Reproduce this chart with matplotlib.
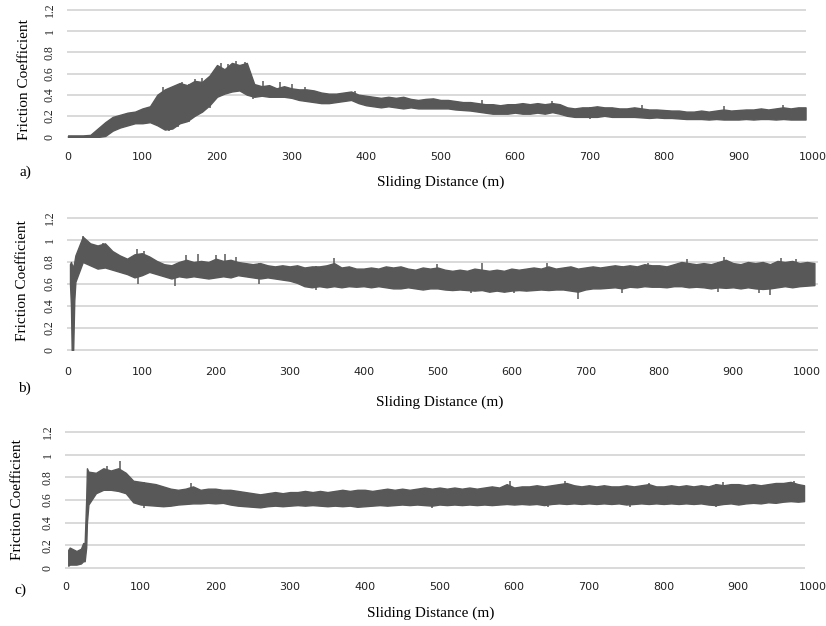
import numpy as np
import matplotlib
matplotlib.use("Agg")
import matplotlib.pyplot as plt

# ---- panel a: band of the friction trace (upper / lower edge) ----
a_dist = list(range(0, 1000, 10))
a_high = [0.015, 0.015, 0.015, 0.02, 0.08, 0.14, 0.19, 0.21, 0.23, 0.24,
          0.27, 0.29, 0.40, 0.45, 0.48, 0.51, 0.49, 0.53, 0.52, 0.58,
          0.68, 0.64, 0.70, 0.68, 0.70, 0.50, 0.48, 0.49, 0.46, 0.48,
          0.46, 0.45, 0.45, 0.44, 0.42, 0.41, 0.41, 0.42, 0.43, 0.40,
          0.39, 0.38, 0.37, 0.38, 0.37, 0.38, 0.36, 0.35, 0.36, 0.365,
          0.35, 0.35, 0.34, 0.33, 0.33, 0.32, 0.31, 0.31, 0.30, 0.31,
          0.31, 0.32, 0.31, 0.32, 0.31, 0.32, 0.31, 0.28, 0.27, 0.28,
          0.28, 0.29, 0.28, 0.28, 0.27, 0.27, 0.28, 0.27, 0.26, 0.26,
          0.255, 0.25, 0.25, 0.24, 0.24, 0.25, 0.24, 0.25, 0.26, 0.25,
          0.255, 0.26, 0.26, 0.27, 0.26, 0.27, 0.28, 0.27, 0.28, 0.28]
a_low = [0, 0, 0, 0, 0, 0.01, 0.06, 0.09, 0.11, 0.13,
         0.13, 0.14, 0.11, 0.07, 0.08, 0.13, 0.15, 0.20, 0.24, 0.30,
         0.38, 0.41, 0.43, 0.44, 0.40, 0.38, 0.39, 0.38, 0.38, 0.38,
         0.37, 0.35, 0.34, 0.33, 0.32, 0.32, 0.33, 0.34, 0.35, 0.32,
         0.30, 0.29, 0.28, 0.29, 0.28, 0.27, 0.28, 0.27, 0.27, 0.27,
         0.27, 0.27, 0.26, 0.255, 0.25, 0.24, 0.23, 0.22, 0.22, 0.22,
         0.23, 0.22, 0.22, 0.23, 0.22, 0.235, 0.22, 0.20, 0.19, 0.19,
         0.19, 0.19, 0.20, 0.19, 0.19, 0.19, 0.19, 0.185, 0.18, 0.185,
         0.18, 0.18, 0.175, 0.17, 0.17, 0.17, 0.165, 0.17, 0.165, 0.165,
         0.165, 0.17, 0.165, 0.17, 0.17, 0.165, 0.17, 0.165, 0.165, 0.165]
a_up_x = [127, 153, 170, 180, 197, 205, 215, 225, 237, 262, 284, 300, 318,
          385, 556, 650, 770, 880, 960]
a_up_y = [0.47, 0.52, 0.55, 0.56, 0.62, 0.70, 0.69, 0.72, 0.71, 0.53, 0.52,
          0.50, 0.47, 0.43, 0.35, 0.34, 0.30, 0.29, 0.30]
a_dn_x = [135, 148, 163, 190, 248, 700]
a_dn_y = [0.06, 0.09, 0.14, 0.27, 0.36, 0.17]

# ---- panel b ----
b_dist = [2.7, 4, 5, 7, 8.5] + list(range(10, 1011, 10))
b_high = [0.78, 0.80, 0.78, 0.75, 0.80,
          0.86, 1.03, 0.97, 0.95, 0.97, 0.90, 0.86, 0.83, 0.87, 0.88,
          0.85, 0.81, 0.78, 0.77, 0.80, 0.82, 0.80, 0.81, 0.80, 0.83,
          0.81, 0.82, 0.80, 0.79, 0.78, 0.79, 0.77, 0.76, 0.77, 0.76,
          0.77, 0.75, 0.76, 0.76, 0.77, 0.79, 0.75, 0.76, 0.74, 0.74,
          0.75, 0.74, 0.76, 0.75, 0.76, 0.74, 0.73, 0.75, 0.74, 0.75,
          0.73, 0.72, 0.73, 0.72, 0.74, 0.73, 0.72, 0.73, 0.72, 0.74,
          0.73, 0.74, 0.75, 0.74, 0.76, 0.74, 0.75, 0.76, 0.74, 0.75,
          0.76, 0.75, 0.76, 0.77, 0.76, 0.77, 0.76, 0.78, 0.77, 0.77,
          0.76, 0.78, 0.80, 0.79, 0.78, 0.79, 0.78, 0.80, 0.82, 0.79,
          0.78, 0.80, 0.79, 0.80, 0.78, 0.81, 0.80, 0.81, 0.79, 0.80, 0.79]
b_low = [0.60, 0.40, 0.0, 0.0, 0.45,
         0.62, 0.80, 0.77, 0.74, 0.75, 0.73, 0.71, 0.69, 0.66, 0.68,
         0.71, 0.69, 0.67, 0.65, 0.67, 0.66, 0.67, 0.66, 0.65, 0.66,
         0.67, 0.66, 0.68, 0.67, 0.66, 0.65, 0.66, 0.65, 0.64, 0.63,
         0.61, 0.58, 0.57, 0.58, 0.57, 0.58, 0.57, 0.58, 0.575, 0.58,
         0.57, 0.58, 0.57, 0.56, 0.56, 0.57, 0.56, 0.55, 0.56, 0.56,
         0.55, 0.545, 0.55, 0.545, 0.54, 0.545, 0.53, 0.54, 0.53, 0.54,
         0.545, 0.54, 0.545, 0.55, 0.545, 0.55, 0.55, 0.54, 0.53, 0.55,
         0.56, 0.56, 0.565, 0.57, 0.56, 0.575, 0.57, 0.58, 0.575, 0.575,
         0.57, 0.58, 0.58, 0.57, 0.575, 0.57, 0.56, 0.57, 0.565, 0.57,
         0.56, 0.57, 0.56, 0.555, 0.56, 0.57, 0.58, 0.57, 0.58, 0.585, 0.59]
b_up_x = [20, 48, 93, 103, 160, 176, 200, 212, 228, 360, 500, 560, 648, 785,
          838, 888, 965, 985]
b_up_y = [1.04, 0.97, 0.92, 0.90, 0.86, 0.87, 0.86, 0.87, 0.85, 0.84, 0.78,
          0.79, 0.79, 0.79, 0.83, 0.85, 0.84, 0.83]
b_dn_x = [95, 145, 258, 335, 545, 603, 690, 750, 880, 935, 950]
b_dn_y = [0.60, 0.58, 0.60, 0.55, 0.52, 0.52, 0.46, 0.52, 0.53, 0.52, 0.50]

# ---- panel c ----
c_dist = [3, 5, 14, 20, 23, 25, 27, 28] + list(range(30, 981, 10)) + [988]
c_high = [0.16, 0.18, 0.15, 0.17, 0.22, 0.22, 0.60, 0.88,
          0.85, 0.84, 0.88, 0.86, 0.88, 0.84, 0.77, 0.76, 0.75, 0.74,
          0.72, 0.70, 0.69, 0.70, 0.72, 0.69, 0.70, 0.70, 0.69, 0.69,
          0.68, 0.67, 0.66, 0.65, 0.66, 0.67, 0.66, 0.67, 0.67, 0.68,
          0.67, 0.68, 0.67, 0.68, 0.69, 0.68, 0.69, 0.69, 0.68, 0.69,
          0.70, 0.69, 0.70, 0.69, 0.70, 0.71, 0.70, 0.71, 0.70, 0.71,
          0.70, 0.71, 0.70, 0.71, 0.72, 0.71, 0.74, 0.71, 0.72, 0.72,
          0.73, 0.72, 0.73, 0.74, 0.75, 0.73, 0.72, 0.73, 0.72, 0.73,
          0.72, 0.72, 0.73, 0.72, 0.73, 0.74, 0.72, 0.72, 0.73, 0.72,
          0.73, 0.72, 0.73, 0.72, 0.74, 0.73, 0.74, 0.74, 0.73, 0.74,
          0.73, 0.74, 0.75, 0.75, 0.76, 0.74, 0.73]
c_low = [0.02, 0.03, 0.03, 0.04, 0.06, 0.06, 0.18, 0.40,
         0.56, 0.66, 0.69, 0.69, 0.68, 0.66, 0.58, 0.56, 0.555, 0.55,
         0.545, 0.55, 0.56, 0.565, 0.57, 0.57, 0.575, 0.57, 0.575, 0.56,
         0.55, 0.545, 0.54, 0.535, 0.545, 0.55, 0.545, 0.55, 0.555, 0.55,
         0.555, 0.55, 0.545, 0.55, 0.545, 0.55, 0.54, 0.545, 0.55, 0.555,
         0.55, 0.555, 0.56, 0.555, 0.56, 0.555, 0.55, 0.56, 0.555, 0.56,
         0.555, 0.56, 0.555, 0.56, 0.555, 0.56, 0.565, 0.56, 0.565, 0.56,
         0.565, 0.555, 0.565, 0.57, 0.565, 0.57, 0.565, 0.57, 0.565, 0.57,
         0.565, 0.57, 0.56, 0.565, 0.57, 0.565, 0.57, 0.565, 0.57, 0.565,
         0.57, 0.565, 0.57, 0.56, 0.555, 0.565, 0.57, 0.56, 0.57, 0.575,
         0.57, 0.58, 0.575, 0.585, 0.59, 0.585, 0.59]
c_up_x = [55, 72, 168, 200, 475, 594, 668, 780, 880, 975]
c_up_y = [0.90, 0.94, 0.75, 0.70, 0.71, 0.77, 0.77, 0.75, 0.76, 0.77]
c_dn_x = [105, 258, 355, 490, 645, 755, 870]
c_dn_y = [0.53, 0.53, 0.54, 0.53, 0.54, 0.54, 0.54]

y_ticks = [0, 0.2, 0.4, 0.6, 0.8, 1, 1.2]
y_labels = ["0", "0.2", "0.4", "0.6", "0.8", "1", "1.2"]
x_ticks = list(range(0, 1001, 100))

SERIF = "Liberation Serif"
DARK = "#585858"
GRID = "#d9d9d9"
W, H = 826, 626


def px(x, y):
    return x / W, 1 - y / H


def panel(fig, rect, xmax, grid_end, dist, low, high, up, dn, xpad):
    ax = fig.add_axes(rect)
    for y in y_ticks:
        ax.axhline(y, xmin=0, xmax=grid_end / xmax, color=GRID, lw=1.4,
                   zorder=0, clip_on=False)
    ax.fill_between(dist, low, high, color=DARK, lw=1.0, edgecolor=DARK,
                    zorder=2)
    ux, uy = up
    ax.vlines(ux, np.interp(ux, dist, low), uy, color=DARK, lw=1.1, zorder=2)
    dx, dy = dn
    ax.vlines(dx, dy, np.interp(dx, dist, high), color=DARK, lw=1.1, zorder=2)
    ax.set_xlim(0, xmax)
    ax.set_ylim(0, 1.2)
    ax.set_xticks(x_ticks)
    ax.set_yticks(y_ticks)
    ax.set_yticklabels(y_labels, rotation=90, va="center", family=SERIF,
                       fontsize=8.5)
    ax.tick_params(axis="x", length=0, pad=xpad, labelsize=8, colors="#222222")
    ax.tick_params(axis="y", length=0, pad=9, colors="#222222")
    for s in ax.spines.values():
        s.set_visible(False)
    ax.patch.set_alpha(0)
    return ax


fig = plt.figure(figsize=(8.26, 6.26), dpi=100)

panel(fig, [68 / W, 1 - 137 / H, 745 / W, 127 / H], 1000, 989,
      a_dist, a_low, a_high, (a_up_x, a_up_y), (a_dn_x, a_dn_y), 11)
panel(fig, [68 / W, 1 - 350 / H, 748.6 / W, 132 / H], 1013, 1013,
      b_dist, b_low, b_high, (b_up_x, b_up_y), (b_dn_x, b_dn_y), 12.5)
panel(fig, [66 / W, 1 - 568 / H, 747 / W, 136 / H], 1000, 988,
      c_dist, c_low, c_high, (c_up_x, c_up_y), (c_dn_x, c_dn_y), 10)

for (yx, yy), (xx, xy), (lx, ly), tag in [((25, 80), (441, 182), (25, 172), "a)"),
                                          ((23, 281), (440, 402), (24, 388), "b)"),
                                          ((18, 500), (431, 613), (20, 590), "c)")]:
    fig.text(*px(yx, yy), "Friction Coefficient", rotation=90, ha="center",
             va="center", family=SERIF, fontsize=11)
    fig.text(*px(xx, xy), "Sliding Distance (m)", ha="center", va="center",
             family=SERIF, fontsize=11)
    fig.text(*px(lx, ly), tag, ha="center", va="center", family=SERIF,
             fontsize=11)

plt.savefig("out.png", dpi=100)
